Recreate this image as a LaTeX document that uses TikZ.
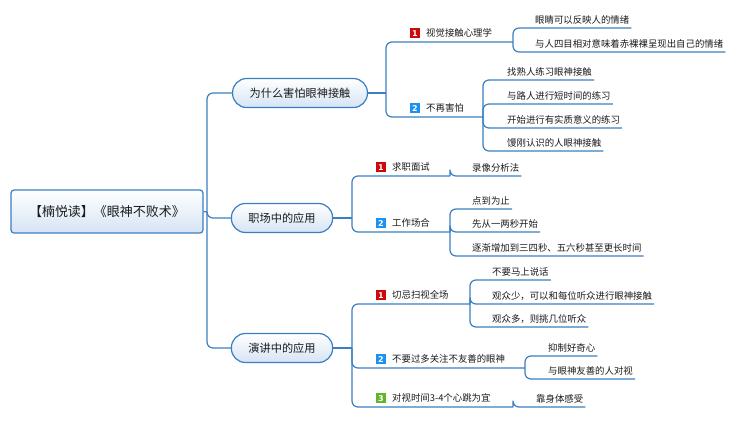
\documentclass[tikz,border=0pt]{standalone}
\usepackage{fontspec}
\setmainfont{Noto Sans CJK SC}
\newfontfamily\badgefont{DejaVu Sans}
\usepackage{xcolor}
\usepackage{tikz}
\usetikzlibrary{positioning,calc}
\definecolor{linkblue}{HTML}{3B7EC2}
\definecolor{fillblue}{HTML}{D5E4F4}
\definecolor{badgered}{HTML}{CC0A0A}
\definecolor{badgeblue}{HTML}{1E90F0}
\definecolor{badgegreen}{HTML}{62B52A}
\definecolor{inkgray}{HTML}{1A1A1A}

\begin{document}
\begin{tikzpicture}[x=1pt, y=-1pt, line join=round, text=inkgray]
    \tikzstyle{link} = [draw=linkblue, line width=1.2pt, rounded corners=6pt]
    \tikzstyle{rootbox} = [rectangle, draw=linkblue, line width=1.2pt, top color=white, bottom color=fillblue, rounded corners=3pt, minimum width=192pt, minimum height=43pt, font=\fontsize{13}{15}\selectfont]
    \tikzstyle{topic} = [rectangle, draw=linkblue, line width=1.2pt, top color=white, bottom color=fillblue, rounded corners=14pt, inner xsep=17pt, minimum height=29pt, font=\fontsize{11.2}{13}\selectfont]
    \tikzstyle{sub} = [anchor=south west, inner sep=0pt, text depth=5.5pt, font=\fontsize{9.4}{11}\selectfont]
    \tikzstyle{leaf} = [anchor=south west, inner xsep=0pt, inner ysep=0pt, text depth=4.7pt, font=\fontsize{9.4}{11}\selectfont]
    \tikzstyle{badge} = [rectangle, anchor=base east, inner sep=0pt, minimum size=10pt, text=white, font=\badgefont\bfseries\fontsize{8}{8}\selectfont]

    \useasboundingbox (0,0) rectangle (737,424);

    \node [rootbox] (root) at (107,211.5) {【楠悦读】《眼神不败术》};
    \node [topic] (why) at (300,93) {为什么害怕眼神接触};
    \node [topic] (work) at (282,218) {职场中的应用};
    \node [topic] (speech) at (282,348) {演讲中的应用};

    \coordinate (jroot) at (207,212);
    \coordinate (jwhy) at (386,93);
    \coordinate (jlook) at (513,42);
    \coordinate (jnofear) at (483,117);
    \coordinate (jwork) at (352,218);
    \coordinate (jinterview) at (450,176);
    \coordinate (joffice) at (450,232);
    \coordinate (jspeech) at (352,348);
    \coordinate (jscan) at (470,304);
    \coordinate (jhostile) at (525,368);
    \coordinate (jtiming) at (513,407);

    % second level
    \node [sub] (look) at (426,42) {视觉接触心理学};
    \node [sub] (nofear) at (426,117) {不再害怕};
    \node [sub] (interview) at (392,176) {求职面试};
    \node [sub] (office) at (392,232) {工作场合};
    \node [sub] (scan) at (392,304) {切忌扫视全场};
    \node [sub] (hostile) at (392,368) {不要过多关注不友善的眼神};
    \node [sub] (timing) at (392,407) {对视时间3-4个心跳为宜};

    \node [badge, fill=badgered] at ([xshift=-6pt]look.base west) {1};
    \node [badge, fill=badgeblue] at ([xshift=-6pt]nofear.base west) {2};
    \node [badge, fill=badgered] at ([xshift=-6pt]interview.base west) {1};
    \node [badge, fill=badgeblue] at ([xshift=-6pt]office.base west) {2};
    \node [badge, fill=badgered] at ([xshift=-6pt]scan.base west) {1};
    \node [badge, fill=badgeblue] at ([xshift=-6pt]hostile.base west) {2};
    \node [badge, fill=badgegreen] at ([xshift=-6pt]timing.base west) {3};

    % leaves
    \node [leaf] (lk1) at (535,28) {眼睛可以反映人的情绪};
    \node [leaf] (lk2) at (535,52) {与人四目相对意味着赤裸裸呈现出自己的情绪};
    \node [leaf] (nf1) at (507,80) {找熟人练习眼神接触};
    \node [leaf] (nf2) at (507,104) {与路人进行短时间的练习};
    \node [leaf] (nf3) at (507,128) {开始进行有实质意义的练习};
    \node [leaf] (nf4) at (507,151) {馒刚认识的人眼神接触};
    \node [leaf] (iv1) at (472,176) {录像分析法};
    \node [leaf] (of1) at (472,209) {点到为止};
    \node [leaf] (of2) at (472,232) {先从一两秒开始};
    \node [leaf] (of3) at (472,256) {逐渐增加到三四秒、五六秒甚至更长时间};
    \node [leaf] (sc1) at (492,280) {不要马上说话};
    \node [leaf] (sc2) at (492,304) {观众少，可以和每位听众进行眼神接触};
    \node [leaf] (sc3) at (492,327) {观众多，则挑几位听众};
    \node [leaf] (ho1) at (548,356) {抑制好奇心};
    \node [leaf] (ho2) at (548,379) {与眼神友善的人对视};
    \node [leaf] (tm1) at (536,407) {靠身体感受};

    \draw [link] (root.east) -- (jroot);
    \draw [link] (jroot) |- (why.west);
    \draw [link] (jroot) |- (work.west);
    \draw [link] (jroot) |- (speech.west);

    \draw [link] (why.east) -- (jwhy);
    \draw [link] (jwhy) |- (jlook);
    \draw [link] (jwhy) |- (jnofear);
    \draw [link] (work.east) -- (jwork);
    \draw [link] (jwork) |- (jinterview);
    \draw [link] (jwork) |- (joffice);
    \draw [link] (speech.east) -- (jspeech);
    \draw [link] (jspeech) |- (jscan);
    \draw [link] (jspeech) |- (jhostile);
    \draw [link] (jspeech) |- (jtiming);

    \foreach \j/\l in {jlook/lk1, jlook/lk2, jnofear/nf1, jnofear/nf2, jnofear/nf3, jnofear/nf4,
                       jinterview/iv1, joffice/of1, joffice/of2, joffice/of3,
                       jscan/sc1, jscan/sc2, jscan/sc3, jhostile/ho1, jhostile/ho2, jtiming/tm1}
        \draw [link] (\j) |- ([xshift=2pt]\l.south east);
\end{tikzpicture}
\end{document}
